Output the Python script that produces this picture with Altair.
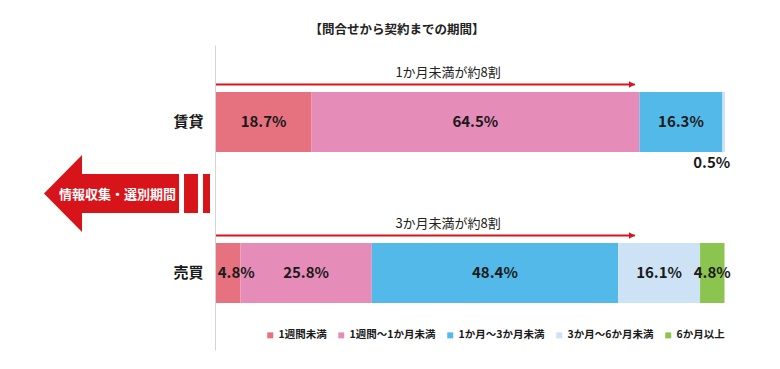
import altair as alt
import pandas as pd

# ---- data ----
categories = ["賃貸", "売買"]
periods = ["1週間未満", "1週間〜1か月未満", "1か月〜3か月未満", "3か月〜6か月未満", "6か月以上"]
rent_pct = [18.7, 64.5, 16.3, 0.5, 0.0]
sale_pct = [4.8, 25.8, 48.4, 16.1, 4.8]
colors = ["#e5727e", "#e68cb8", "#52b9e8", "#cde3f5", "#8cc450"]
annot_text = ["1か月未満が約8割", "3か月未満が約8割"]
annot_end = [82.3, 82.3]
title_text = "【問合せから契約までの期間】"
arrow_text = ["情報収集・選別期間"]

FONT = "Noto Sans CJK JP"
RED = "#d7141a"
INK = "#1a1a1a"

rows = []
for cat, vals in zip(categories, [rent_pct, sale_pct]):
    start = 0.0
    for i, (p, v) in enumerate(zip(periods, vals)):
        if v > 0:
            rows.append(dict(cat=cat, period=p, order=i, pct=v, start=start,
                             end=start + v, mid=start + v / 2, label=f"{v:.1f}%"))
        start += v
df = pd.DataFrame(rows)
ann = pd.DataFrame(dict(cat=categories, text=annot_text, end=annot_end, start=[0, 0]))

xs = alt.Scale(domain=[0, 100], nice=False, zero=False)
ys = alt.Scale(domain=categories, paddingInner=0.6026, paddingOuter=0.311)
yaxis = alt.Axis(title=None, ticks=False, labelPadding=12, offset=1,
                 labelFont=FONT, labelFontSize=15, labelFontWeight="bold",
                 labelColor=INK, domainColor="#d4d4d4", grid=False)
Y = alt.Y("cat:N", scale=ys, axis=yaxis, sort=categories)

base = alt.Chart(df)

bars = base.mark_bar().encode(
    x=alt.X("start:Q", scale=xs, axis=None),
    x2="end:Q",
    y=Y,
    color=alt.Color("period:N", scale=alt.Scale(domain=periods, range=colors),
                    legend=alt.Legend(title=None, orient="none", legendX=49, legendY=285,
                                      direction="horizontal", symbolType="square",
                                      symbolSize=36, symbolStrokeWidth=0,
                                      labelFont=FONT, labelFontSize=10.5,
                                      labelFontWeight="bold", labelColor=INK,
                                      labelOffset=3, columnPadding=9)),
    order="order:Q",
)

txt = dict(font=FONT, fontSize=15, fontWeight="bold", color=INK, baseline="middle")
labels_main = base.transform_filter(
    "datum.pct >= 1 && !(datum.cat == '売買' && datum.order == 0)"
).mark_text(**txt).encode(x=alt.X("mid:Q", scale=xs, axis=None), y=Y, text="label:N")
labels_first = base.transform_filter(
    "datum.cat == '売買' && datum.order == 0"
).mark_text(dx=8, **txt).encode(x=alt.X("mid:Q", scale=xs, axis=None), y=Y, text="label:N")
labels_small = base.transform_filter("datum.pct < 1").mark_text(dx=-12, dy=41, **txt).encode(
    x=alt.X("mid:Q", scale=xs, axis=None), y=Y, text="label:N")

abase = alt.Chart(ann)
arr_line = abase.mark_rule(color=RED, strokeWidth=2, yOffset=-37.5).encode(
    x=alt.X("start:Q", scale=xs, axis=None), x2="end:Q", y=Y)
arr_head = abase.mark_point(shape="triangle-right", filled=True, size=45, color=RED,
                            opacity=1, yOffset=-37.5, xOffset=-3).encode(
    x=alt.X("end:Q", scale=xs, axis=None), y=Y)
arr_text = abase.mark_text(font=FONT, fontSize=13, color="#222", yOffset=-49,
                           baseline="middle").encode(
    x=alt.datum(45.6), y=Y, text="text:N")

ARROW = ("M-1,0L-0.542,-0.464L-0.542,-0.235L0.627,-0.235L0.627,0.235L-0.542,0.235"
         "L-0.542,0.464Z M0.687,-0.235L0.855,-0.235L0.855,0.235L0.687,0.235Z "
         "M0.916,-0.235L1,-0.235L1,0.235L0.916,0.235Z")
tb = alt.Chart(pd.DataFrame({"t": arrow_text}))
big_arrow = tb.mark_point(shape=ARROW, size=166 * 166, filled=True, color=RED,
                          opacity=1, strokeWidth=0).encode(
    x=alt.value(-89), y=alt.value(148.5))
big_text = tb.mark_text(font=FONT, fontSize=13, fontWeight="bold", color="white",
                        baseline="middle").encode(
    x=alt.value(-98.5), y=alt.value(150), text="t:N")

title = alt.Chart(pd.DataFrame({"t": [title_text]})).mark_text(
    font=FONT, fontSize=12.5, fontWeight="bold", color="#222", baseline="middle"
).encode(x=alt.value(181), y=alt.value(-14.7), text="t:N")

chart = alt.layer(
    bars, labels_main, labels_first, labels_small,
    arr_line, arr_head, arr_text, big_arrow, big_text, title
).properties(
    width=509, height=305,
    autosize=alt.AutoSizeParams(type="none"),
    padding={"left": 208, "top": 37, "right": 47, "bottom": 11},
    background="white",
).configure_view(stroke=None)

chart.save("out.html", embed_options={"renderer": "svg", "actions": False})
